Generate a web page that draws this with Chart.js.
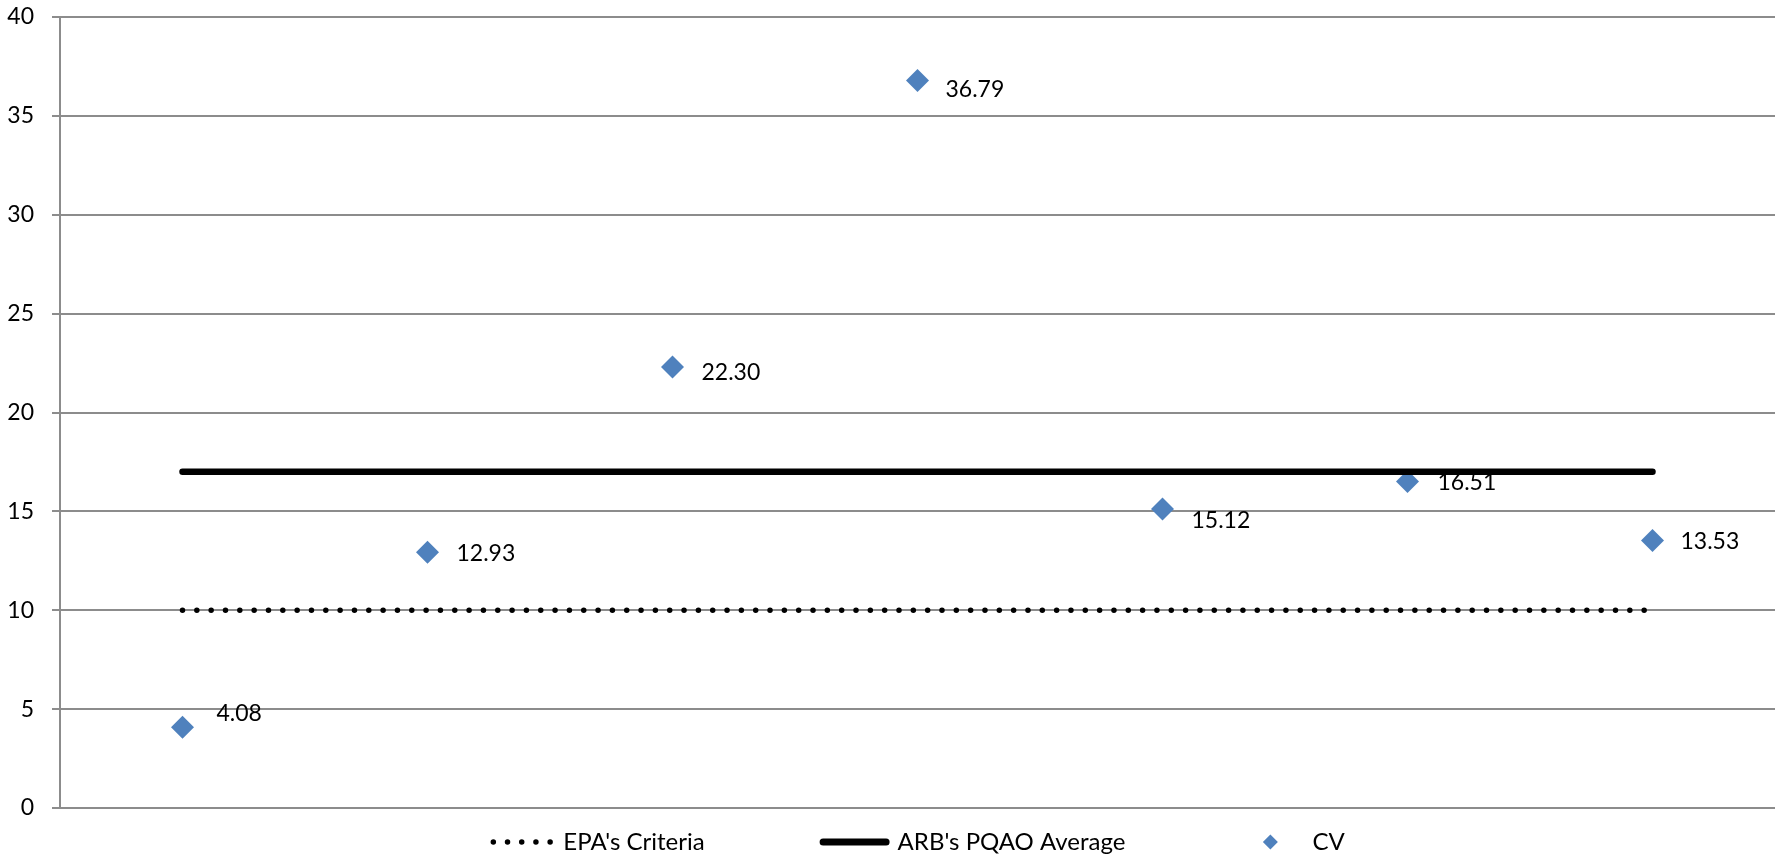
<!DOCTYPE html>
<html>
<head>
<meta charset="utf-8">
<title>CV by site</title>
<script src="https://cdn.jsdelivr.net/npm/chart.js@4.4.1/dist/chart.umd.min.js"></script>
<style>
  html, body { margin: 0; padding: 0; background: #fff; }
  #wrap { width: 1775px; height: 858px; overflow: hidden; }
</style>
</head>
<body>
<div id="wrap"><canvas id="cvChart" width="1775" height="858"></canvas></div>
<script>
// data
const sites = ['Site 1', 'Site 2', 'Site 3', 'Site 4', 'Site 5', 'Site 6', 'Site 7'];
const cvValues = [4.08, 12.93, 22.30, 36.79, 15.12, 16.51, 13.53];
const epaCriteria = [10, 10, 10, 10, 10, 10, 10];
const arbAverage = [17, 17, 17, 17, 17, 17, 17];
const yMin = 0;
const yMax = 40;
const yStep = 5;

const FONT = 'Lato, "Liberation Sans", sans-serif';
const BLUE = '#4F81BD';
const GRID = '#8c8c8c';

// where each value label sits relative to its diamond
const labelShift = [[34, -14], [29, 1], [29, 6], [28, 9], [29, 12], [30, 1], [28, 1]];

const cvLabels = {
  id: 'cvLabels',
  afterDatasetsDraw(chart) {
    const ctx = chart.ctx;
    const meta = chart.getDatasetMeta(2);
    ctx.save();
    ctx.font = '23px ' + FONT;
    ctx.fillStyle = '#000';
    ctx.textAlign = 'left';
    ctx.textBaseline = 'middle';
    meta.data.forEach((pt, i) => {
      const [dx, dy] = labelShift[i];
      ctx.fillText(cvValues[i].toFixed(2), pt.x + dx, pt.y + dy);
    });
    ctx.restore();
  }
};

// legend drawn by hand so the samples look like the series
const legendItems = [
  { text: "EPA's Criteria", kind: 'dots', w: 63, gap: 10 },
  { text: "ARB's PQAO Average", kind: 'solid', w: 70, gap: 8 },
  { text: 'CV', kind: 'diamond', w: 60, gap: 12 }
];
const legendBetween = 115;

const bottomLegend = {
  id: 'bottomLegend',
  afterDraw(chart) {
    const ctx = chart.ctx;
    const area = chart.chartArea;
    const y = 842;
    ctx.save();
    ctx.font = '24px ' + FONT;
    const widths = legendItems.map(it => it.w + it.gap + ctx.measureText(it.text).width);
    const total = widths.reduce((a, b) => a + b, 0) + legendBetween * (legendItems.length - 1);
    let x = (area.left + area.right) / 2 - total / 2;

    legendItems.forEach((it, i) => {
      ctx.strokeStyle = '#000';
      ctx.lineCap = 'round';
      if (it.kind === 'dots') {
        ctx.lineWidth = 5.5;
        ctx.setLineDash([0, 14.2]);
        ctx.beginPath();
        ctx.moveTo(x + 3, y);
        ctx.lineTo(x + it.w - 2, y);
        ctx.stroke();
        ctx.setLineDash([]);
      } else if (it.kind === 'solid') {
        ctx.lineWidth = 7;
        ctx.beginPath();
        ctx.moveTo(x + 3.5, y);
        ctx.lineTo(x + it.w - 3.5, y);
        ctx.stroke();
      } else {
        const cx = x + it.w / 2, r = 7.5;
        ctx.fillStyle = BLUE;
        ctx.beginPath();
        ctx.moveTo(cx - r, y);
        ctx.lineTo(cx, y - r);
        ctx.lineTo(cx + r, y);
        ctx.lineTo(cx, y + r);
        ctx.closePath();
        ctx.fill();
      }
      ctx.fillStyle = '#000';
      ctx.textAlign = 'left';
      ctx.textBaseline = 'middle';
      ctx.fillText(it.text, x + it.w + it.gap, y);
      x += widths[i] + legendBetween;
    });
    ctx.restore();
  }
};

const chart = new Chart(document.getElementById('cvChart'), {
  type: 'line',
  data: {
    labels: sites,
    datasets: [
      {
        label: "EPA's Criteria",
        data: epaCriteria,
        borderColor: '#000',
        borderWidth: 5.5,
        borderDash: [0, 14.33],
        borderCapStyle: 'round',
        pointRadius: 0,
        fill: false,
        order: 0
      },
      {
        label: "ARB's PQAO Average",
        data: arbAverage,
        borderColor: '#000',
        borderWidth: 6.5,
        borderCapStyle: 'round',
        pointRadius: 0,
        fill: false,
        order: 1
      },
      {
        label: 'CV',
        data: cvValues,
        showLine: false,
        pointStyle: 'rectRot',
        pointRadius: 11.5,
        pointBackgroundColor: BLUE,
        pointBorderWidth: 0,
        borderColor: BLUE,
        backgroundColor: BLUE,
        order: 2
      }
    ]
  },
  options: {
    responsive: false,
    animation: false,
    layout: { autoPadding: false, padding: { top: 17, right: -6, bottom: 50, left: 0 } },
    plugins: {
      legend: { display: false },
      tooltip: { enabled: false }
    },
    scales: {
      x: {
        type: 'category',
        offset: true,
        grid: { display: false },
        border: { display: false },
        ticks: { display: false },
        afterFit: s => { s.height = 0; }
      },
      y: {
        min: yMin,
        max: yMax,
        ticks: {
          stepSize: yStep,
          color: '#000',
          padding: 18,
          font: { family: FONT, size: 23 }
        },
        grid: { color: GRID, lineWidth: 2, tickLength: 8, drawTicks: true },
        border: { color: GRID, width: 2 },
        // fixed axis width; the top and bottom labels may hang into the margins
        afterFit: s => {
          s.width = 60;
          s.paddingTop = 0;
          s.paddingBottom = 0;
        }
      }
    }
  },
  plugins: [cvLabels, bottomLegend]
});
</script>
</body>
</html>
